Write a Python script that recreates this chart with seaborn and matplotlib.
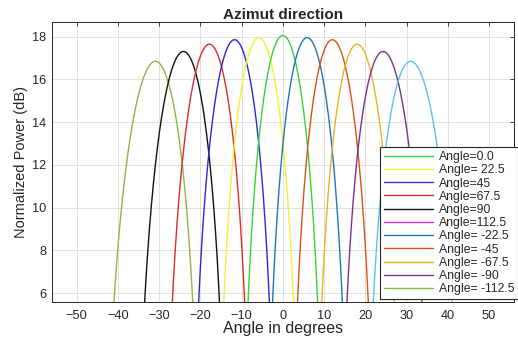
import numpy as np
import pandas as pd
import seaborn as sns
import matplotlib.pyplot as plt
from matplotlib.lines import Line2D

# 讀圖得到的波束參數（峰值角度、峰值功率）
beam_names = ['b-112.5', 'b90', 'b67.5', 'b45', 'b22.5', 'b0',
              'b-22.5', 'b-45', 'b-67.5', 'b-90', 'bextra']
peak_angle = [-30.9, -24.1, -17.8, -11.7, -5.8, 0.0, 5.9, 12.0, 18.0, 24.3, 31.0]
peak_db = [16.84, 17.30, 17.64, 17.85, 17.95, 18.05, 17.95, 17.85, 17.64, 17.30, 16.84]
null_width_sin = 0.184   # 主瓣零點寬度（sin 空間）
curve_colors = ['#8fb548', '#111111', '#e02a2a', '#2a2ad0', '#f2f230', '#36d436',
                '#1f77b8', '#d95319', '#edb120', '#7e2f8e', '#5bc3ea']

# 圖例（依原圖順序）
legend_labels = ['Angle=0.0', 'Angle= 22.5', 'Angle=45', 'Angle=67.5', 'Angle=90',
                 'Angle=112.5', 'Angle= -22.5', 'Angle= -45', 'Angle= -67.5',
                 'Angle= -90', 'Angle= -112.5']
legend_colors = ['#36d436', '#f2f230', '#3535c8', '#e02a2a', '#111111',
                 '#d030d0', '#1f77b8', '#d95319', '#edb120', '#7e2f8e', '#8fb548']

x_ticks = list(range(-50, 51, 10))
y_ticks = list(range(6, 19, 2))

# 建立主瓣曲線資料
rows = []
for name, a0, p0 in zip(beam_names, peak_angle, peak_db):
    s0 = np.sin(np.radians(a0))
    u = np.linspace(-0.995, 0.995, 600)
    ang = np.degrees(np.arcsin(np.clip(s0 + u * null_width_sin, -1, 1)))
    pw = p0 + 20 * np.log10(np.abs(np.sinc(u)))
    rows.append(pd.DataFrame({'angle': ang, 'power': pw, 'beam': name}))
df = pd.concat(rows, ignore_index=True)

sns.set_theme(style="whitegrid")
plt.rcParams['font.family'] = ['Liberation Sans', 'DejaVu Sans']

fig = plt.figure(figsize=(5.18, 3.38), dpi=100)
ax = fig.add_axes([0.100, 0.1065, 0.892, 0.8285])

sns.lineplot(data=df, x='angle', y='power', hue='beam', estimator=None, sort=False,
             palette=dict(zip(beam_names, curve_colors)), legend=False,
             linewidth=1.0, ax=ax)

ax.set_xlim(-56, 56)
ax.set_ylim(5.58, 18.68)
ax.set_xticks(x_ticks)
ax.set_yticks(y_ticks)
ax.grid(True, color='#dcdcdc', linewidth=0.6)
ax.tick_params(direction='in', length=3, width=0.6, top=True, right=True,
               labelsize=9.2, colors='#262626', pad=4)
ax.tick_params(axis='x', pad=6)
for sp in ax.spines.values():
    sp.set_color('#262626')
    sp.set_linewidth(0.7)

ax.set_title('Azimut direction', fontsize=11, fontweight='bold', pad=2)
ax.set_xlabel('Angle in degrees', fontsize=11.5, labelpad=-1, color='#262626')
ax.set_ylabel('Normalized Power (dB)', fontsize=10.5, labelpad=3, color='#262626')

handles = [Line2D([0], [0], color=c, linewidth=1.0) for c in legend_colors]
leg = ax.legend(handles, legend_labels, loc='lower right',
                bbox_to_anchor=(1.0, 1 - 299 / 338), bbox_transform=fig.transFigure,
                borderaxespad=0, fontsize=8.8, labelspacing=0.1, handlelength=4.0,
                handletextpad=0.5, borderpad=0.3, fancybox=False, framealpha=1)
leg.get_frame().set_edgecolor('#262626')
leg.get_frame().set_linewidth(0.8)

fig.savefig('out.png', dpi=100)
